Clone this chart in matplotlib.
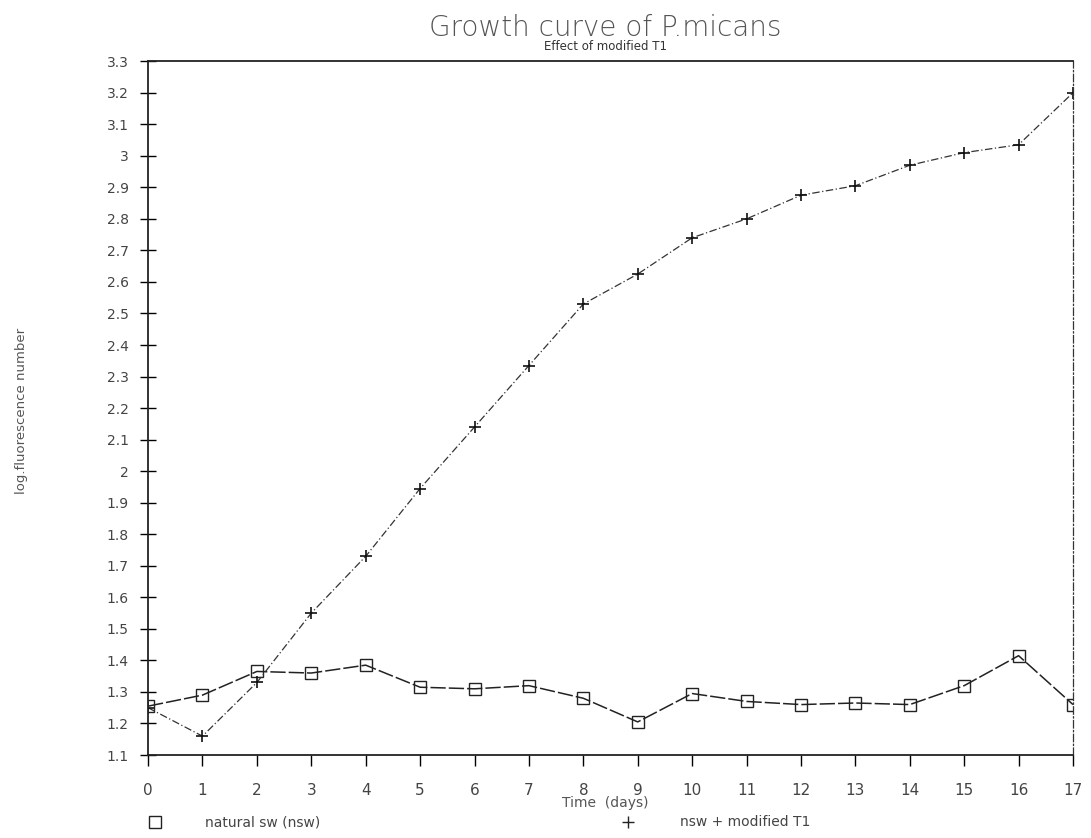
import matplotlib
matplotlib.use('agg')
import matplotlib.pyplot as plt
from matplotlib.ticker import MultipleLocator, FuncFormatter

days = list(range(18))
nsw = [1.255, 1.29, 1.365, 1.36, 1.385, 1.315, 1.31, 1.32, 1.28, 1.205,
       1.295, 1.27, 1.26, 1.265, 1.26, 1.32, 1.415, 1.26]
nsw_t1 = [1.25, 1.16, 1.33, 1.55, 1.73, 1.945, 2.14, 2.335, 2.53, 2.625,
          2.74, 2.80, 2.875, 2.905, 2.97, 3.01, 3.035, 3.20]

title = "Growth curve of P.micans"
subtitle = "Effect of modified T1"
xlab = "Time  (days)"
ylab = "log.fluorescence number"
labels = ["natural sw (nsw)", "nsw + modified T1"]

txtcol = '#444444'
plt.rcParams['font.family'] = ['DejaVu Sans']

fig = plt.figure(figsize=(10.91, 8.38), dpi=100)
ax = fig.add_axes([0.1357, 0.099, 0.8478, 0.828])

ax.plot(days, nsw, color='#222222', linestyle=(0, (10, 2)), linewidth=1.1,
        marker='s', markerfacecolor='none', markeredgecolor='#222222',
        markersize=9, markeredgewidth=1.0)
ax.plot(days, nsw_t1, color='#333333', linestyle=(0, (6, 2, 1, 2)), linewidth=0.9,
        marker='+', markersize=9, markeredgewidth=1.2, markeredgecolor='#111111')

ax.set_xlim(0, 17)
ax.set_ylim(1.1, 3.3)
ax.xaxis.set_major_locator(MultipleLocator(1))
ax.yaxis.set_major_locator(MultipleLocator(0.1))
ax.yaxis.set_major_formatter(FuncFormatter(lambda v, p: f"{v:.1f}".rstrip('0').rstrip('.')))

ax.tick_params(axis='x', direction='out', length=8, width=1.0, pad=12,
               labelsize=11, labelcolor=txtcol)
ax.tick_params(axis='y', direction='inout', length=12, width=1.0, pad=8,
               labelsize=10, labelcolor=txtcol)

for s in ['left', 'bottom', 'top']:
    ax.spines[s].set_linewidth(1.3)
    ax.spines[s].set_color('#222222')
ax.spines['right'].set_linestyle((0, (6, 2, 1, 2)))
ax.spines['right'].set_linewidth(0.9)
ax.spines['right'].set_color('#333333')

fig.text(0.555, 0.966, title, ha='center', va='center', fontsize=20,
         color='#555555', fontweight='light')
fig.text(0.555, 0.944, subtitle, ha='center', va='center', fontsize=8.5, color='#333333')
fig.text(0.02, 0.51, ylab, ha='center', va='center', rotation=90,
         fontsize=9.5, color='#555555')
fig.text(0.555, 0.042, xlab, ha='center', va='center', fontsize=10, color='#555555')

# legend row under the axis title
fig.lines.append(plt.Line2D([0.142], [0.019], transform=fig.transFigure, marker='s',
                            markerfacecolor='none', markeredgecolor='#222222',
                            markersize=8, linestyle='none'))
fig.text(0.188, 0.019, labels[0], ha='left', va='center', fontsize=10, color='#444444')
fig.lines.append(plt.Line2D([0.576], [0.019], transform=fig.transFigure, marker='+',
                            markeredgecolor='#222222', markersize=8, linestyle='none'))
fig.text(0.623, 0.019, labels[1], ha='left', va='center', fontsize=10, color='#444444')

fig.savefig('out.png', dpi=100, facecolor='white')
